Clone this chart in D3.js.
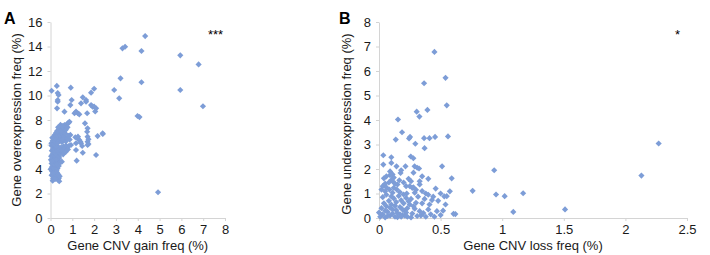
<!DOCTYPE html>
<html><head><meta charset="utf-8">
<script src="https://cdn.jsdelivr.net/npm/d3@7"></script>
<style>body{margin:0;background:#fff}svg{display:block}text{font-family:"Liberation Sans",Arial,sans-serif}</style>
</head><body>
<svg id="c" width="710" height="255"></svg>
<script>
// Panel A: gene CNV gain freq (%) vs gene overexpression freq (%)
const gainFreq = [4.34,3.30,3.42,4.17,5.95,6.79,3.21,4.17,2.92,5.95,3.15,6.99,3.99,4.08,2.40,4.93,
0.05,0.29,0.33,0.37,0.33,0.33,0.30,0.93,0.97,0.91,0.64,1.10,1.17,1.25,1.32,1.40,1.48,1.63,1.63,1.68,1.86,2.00,1.86,1.93,2.00,2.09,2.05,
0.87,0.79,0.72,0.64,0.49,0.46,0.84,1.58,1.70,1.68,1.70,1.74,1.74,2.16,2.39,1.25,1.32,1.14,1.26,1.17,1.40,1.37,1.45,1.70,1.17,1.48,1.70,2.09,1.20,0.91,0.94,
0.10,0.12,0.15,0.35,0.38,0.40,0.05,0.20,0.25,0.30,0.08,0.18,0.28,0.36,0.42,0.02,0.12,0.22,
0.03,0.08,0.14,0.20,0.26,0.32,0.38,0.05,0.10,0.16,0.22,0.28,0.34,0.02,0.12,0.18,0.25,0.40,0.46,0.30,0.07,0.52,
0.03,0.09,0.15,0.21,0.27,0.33,0.39,0.45,0.51,0.06,0.12,0.18,0.24,0.30,0.36,0.42,0.48,0.54,0.60,0.66,0.72,0.05,0.15,0.25,0.58,0.70,0.80,0.85,
0.04,0.10,0.16,0.22,0.28,0.34,0.40,0.46,0.52,0.58,0.64,0.70,0.76,0.82,0.88,0.14,0.20,0.26,0.32,0.38,0.44,0.50,0.56,0.62,0.68,0.08,
0.30,0.40,0.50,0.60,0.70,0.78,0.35,0.55];
const overexprFreq = [14.85,13.85,13.98,13.63,13.28,12.54,11.40,11.08,10.45,10.45,9.77,9.12,8.33,8.24,6.86,2.10,
10.39,10.78,10.20,10.04,9.63,9.50,8.95,10.64,9.63,9.22,8.68,8.55,8.68,8.55,8.46,9.36,9.85,9.63,9.50,8.55,10.23,10.55,9.22,9.09,9.09,8.95,8.70,
7.86,7.73,7.59,7.59,7.45,7.60,7.78,7.73,7.32,7.04,6.64,6.42,6.04,6.69,6.91,6.50,6.37,6.59,6.64,6.10,6.10,6.23,5.88,6.23,5.55,5.33,5.96,5.14,4.68,6.78,5.96,
3.05,3.20,3.35,3.10,3.25,3.00,3.50,3.60,3.45,3.70,3.80,3.90,3.85,3.55,3.40,3.95,3.65,3.20,
4.05,4.20,4.10,4.30,4.15,4.05,4.25,4.45,4.55,4.40,4.60,4.50,4.70,4.75,4.85,4.95,4.80,4.90,4.55,4.35,4.65,4.60,
5.05,5.20,5.10,5.30,5.15,5.35,5.05,5.25,5.40,5.50,5.65,5.45,5.70,5.55,5.80,5.60,5.75,5.50,5.85,5.65,5.90,5.90,5.95,5.85,5.20,5.40,5.60,5.90,
6.10,6.30,6.05,6.25,6.45,6.15,6.35,6.55,6.20,6.40,6.60,6.25,6.50,6.70,6.40,6.60,6.80,6.95,6.70,6.90,6.75,6.95,6.85,7.00,6.90,6.55,
7.10,7.25,7.15,7.35,7.20,7.40,7.40,7.50];

// Panel B: gene CNV loss freq (%) vs gene underexpression freq (%)
const lossFreq = [0.45,0.366,0.54,0.55,0.306,0.393,0.328,0.154,0.187,0.136,0.244,0.252,0.295,0.366,0.41,0.455,0.56,0.37,0.035,0.10,0.258,0.279,
0.035,0.10,0.142,0.215,0.289,0.31,0.325,0.512,0.935,0.175,
0.59,0.46,0.575,0.55,0.76,0.95,1.02,1.17,1.09,0.605,0.62,1.51,2.13,2.27,
0.04,0.06,0.09,0.11,0.12,0.10,0.08,0.165,0.15,0.24,0.26,0.25,0.33,0.33,
0.02,0.05,0.085,0.11,0.12,0.145,0.17,0.20,0.225,0.27,0.29,0.317,0.44,0.43,0.41,0.53,0.54,0.47,0.40,0.35,0.37,
0.01,0.03,0.05,0.07,0.09,0.11,0.13,0.15,0.17,0.19,0.21,0.23,0.25,0.27,0.29,0.31,0.33,0.02,0.04,0.06,0.08,0.10,0.12,0.14,0.16,0.18,0.20,0.22,0.24,0.26,0.28,0.30,0.03,0.05,0.07,0.09,0.11,0.13,0.15,0.17,0.19,0.21,0.23,0.00,0.06,0.10,0.14,0.18,0.22,0.26,0.34,0.36,0.38,0.42,0.45,0.50,0.52,
0.09,0.10,0.11,0.13,0.20,0.22,0.28,0.30,0.35,0.38,0.40,0.48,0.50,0.03,0.05,0.06,0.35,0.28,0.18,0.40];
const underexprFreq = [6.78,5.50,5.72,4.60,4.34,4.41,4.14,4.02,3.50,3.20,3.25,3.31,3.03,3.26,3.26,3.31,3.33,2.85,2.56,2.48,2.51,2.44,
2.18,2.25,2.11,2.11,2.11,2.05,2.02,2.11,1.95,1.84,
1.62,1.20,1.09,0.89,1.11,0.96,0.89,1.01,0.25,0.17,0.16,0.35,1.73,3.04,
1.62,1.70,1.75,1.78,1.65,1.55,1.45,1.54,1.37,1.60,1.50,1.30,1.50,1.37,
1.16,1.09,1.16,1.03,1.23,1.16,1.05,0.96,1.00,1.23,1.03,0.87,0.87,0.73,0.55,0.88,0.55,0.28,0.35,0.60,0.78,
0.05,0.15,0.02,0.25,0.10,0.35,0.05,0.20,0.45,0.12,0.30,0.05,0.55,0.18,0.38,0.08,0.28,0.40,0.60,0.48,0.70,0.55,0.80,0.65,0.90,0.72,0.60,0.82,0.68,0.78,0.48,0.62,0.85,0.30,0.08,0.42,0.18,0.50,0.03,0.15,0.35,0.10,0.40,0.22,0.95,0.88,0.32,0.05,0.22,0.02,0.10,0.20,0.05,0.15,0.05,0.12,0.30,
1.90,1.80,1.50,1.40,1.45,1.30,1.25,1.15,1.10,1.00,0.95,0.70,1.00,1.30,1.40,1.25,1.70,1.85,1.95,1.60];

const xTicksA = [0,1,2,3,4,5,6,7,8];
const yTicksA = [0,2,4,6,8,10,12,14,16];
const xTicksB = [0,0.5,1,1.5,2,2.5];
const yTicksB = [0,1,2,3,4,5,6,7,8];

const svg = d3.select("#c");
svg.append("rect").attr("width",710).attr("height",255).attr("fill","#fff");

const markerColor = "#7d9dd7";
const axisColor = "#d4d4d4";
const textColor = "#1a1a1a";

function panel(o){
  const x = d3.scaleLinear().domain(o.xd).range(o.xr);
  const y = d3.scaleLinear().domain(o.yd).range(o.yr);
  const g = svg.append("g");
  const ya = g.append("g").attr("transform",`translate(${o.xr[0]},0)`)
    .call(d3.axisLeft(y).tickValues(o.yt).tickSize(3).tickPadding(5).tickSizeOuter(0));
  const xa = g.append("g").attr("transform",`translate(0,${o.yr[0]})`)
    .call(d3.axisBottom(x).tickValues(o.xt).tickSize(3).tickPadding(4).tickSizeOuter(0).tickFormat(d3.format("")));
  [ya,xa].forEach(a=>{
    a.selectAll("path,line").attr("stroke",axisColor);
    a.selectAll("text").attr("fill",textColor).style("font-size","13px")
      .style("font-family",'"Liberation Sans",Arial,sans-serif');
  });
  const sym = d3.symbol().type(d3.symbolSquare).size(19);
  g.append("g").selectAll("path").data(o.xs.map((v,i)=>[v,o.ys[i]])).join("path")
    .attr("d",sym)
    .attr("transform",d=>`translate(${x(d[0])},${y(d[1])}) rotate(45)`)
    .attr("fill",markerColor);
  g.append("text").attr("x",(o.xr[0]+o.xr[1])/2).attr("y",250)
    .attr("text-anchor","middle").style("font-size","13px").attr("fill",textColor).text(o.xl);
  g.append("text").attr("transform",`translate(${o.ylx},${o.yly}) rotate(-90)`)
    .attr("text-anchor","middle").style("font-size","13px").attr("fill",textColor).text(o.yl);
  g.append("text").attr("x",o.lx).attr("y",24).style("font-size","16px").style("font-weight","bold")
    .attr("fill","#000").text(o.label);
  g.append("text").attr("x",o.sx).attr("y",39).attr("text-anchor","middle").style("font-size","13px")
    .attr("fill","#000").text(o.sig);
}

panel({xd:[0,8],xr:[50.5,225],yd:[0,16],yr:[218,22],xt:xTicksA,yt:yTicksA,xs:gainFreq,ys:overexprFreq,
  xl:"Gene CNV gain freq (%)",yl:"Gene overexpression freq (%)",ylx:21,yly:120,label:"A",lx:4,sig:"***",sx:215.5});
panel({xd:[0,2.5],xr:[379,687],yd:[0,8],yr:[218,22],xt:xTicksB,yt:yTicksB,xs:lossFreq,ys:underexprFreq,
  xl:"Gene CNV loss freq (%)",yl:"Gene underexpression freq (%)",ylx:351,yly:124,label:"B",lx:339,sig:"*",sx:677.5});
</script>
</body></html>
